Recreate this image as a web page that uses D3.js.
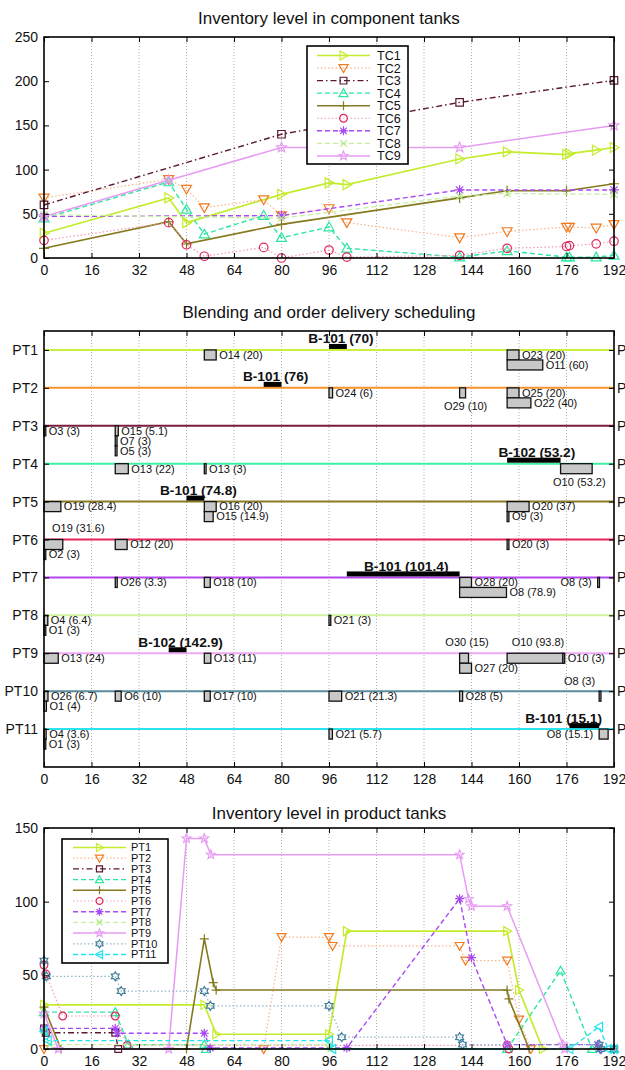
<!DOCTYPE html>
<html><head><meta charset="utf-8">
<script src="https://cdn.jsdelivr.net/npm/d3@7/dist/d3.min.js"></script>
<style>
html,body{margin:0;padding:0;background:#fff;}
svg{display:block;}
</style></head><body>
<svg id="chart" width="625" height="1070"></svg>
<script>
// ================= DATA =================
const hourTicks = [0,16,32,48,64,80,96,112,128,144,160,176,192];
const tcTicks = [0,50,100,150,200,250];
const ptTicks = [0,50,100,150];

const titles = ["Inventory level in component tanks","Blending and order delivery scheduling","Inventory level in product tanks"];

// component tanks: [hour, level]
const tcNames = ["TC1","TC2","TC3","TC4","TC5","TC6","TC7","TC8","TC9"];
const TC1 = [[0,28],[42,68],[48,40],[80,72],[96,85],[102,83],[140,112],[156,120],[176,117],[177,118],[186,122],[192,125]];
const TC2 = [[0,68],[42,89],[48,78],[54,57],[74,66],[80,48],[96,56],[102,40],[140,23],[156,30],[176,35],[177,35],[186,34],[192,38]];
const TC3 = [[0,60],[80,140],[140,176],[192,201]];
const TC4 = [[0,45],[42,86],[48,55],[54,27],[74,48],[80,23],[96,35],[102,11],[140,1],[156,8],[176,1],[177,1],[186,1],[192,3]];
const TC5 = [[0,11],[42,41],[48,16],[80,38],[140,68],[156,76],[176,76],[192,84]];
const TC6 = [[0,20],[42,40],[48,15],[54,2],[74,12],[80,0],[96,9],[102,1],[140,3],[156,11],[176,13],[177,14],[186,16],[192,19]];
const TC7 = [[0,47],[80,48],[140,77],[192,77]];
const TC8 = [[0,49],[80,45],[140,70],[156,73],[192,72]];
const TC9 = [[0,47],[42,88],[80,125],[140,125],[192,150]];
const tcSeries = [TC1,TC2,TC3,TC4,TC5,TC6,TC7,TC8,TC9];

// product tanks: [hour, level]
const ptNames = ["PT1","PT2","PT3","PT4","PT5","PT6","PT7","PT8","PT9","PT10","PT11"];
const PT1 = [[0,30],[54,30],[58,10],[96,10],[102,80],[156,80],[160,40],[168,0]];
const PT2 = [[0,0],[74,0],[80,76],[96,76],[97.2,70],[140,70],[142,60],[156,60],[160,20],[164,0]];
const PT3 = [[0,14],[0.6,11],[24,11],[25,0]];
const PT4 = [[0,25],[24,25],[28.4,3],[54,3],[54.6,0],[156,0],[174,53.2],[184.6,0],[192,0]];
const PT5 = [[0,28.4],[5.7,0],[48,0],[54,74.8],[57,45],[58,40],[156,40],[156.6,34],[163.4,0]];
const PT6 = [[0,57],[0.6,51],[6.3,22.4],[24,22.4],[28,2.4],[156,2.4],[156.6,0]];
const PT7 = [[0,14],[24,14],[24.7,10.7],[54,10.7],[56,0.7],[102,0.7],[140,102],[144,62],[156,3],[186.5,3],[187.1,0],[192,0]];
const PT8 = [[0,12.4],[1.9,3],[96,3],[96.6,0],[192,0]];
const PT9 = [[0,24],[4.8,0],[42,0],[48,142.9],[54,142.9],[56.2,131.9],[140,131.9],[143,101.9],[144,96.9],[156,96.9],[174.8,3.1],[175.4,0]];
const PT10 = [[0,60],[0.8,49.3],[24,49.3],[26,39.3],[54,39.3],[56,29.3],[96,29.3],[100.3,8],[140,8],[141,3],[187,3],[187.6,0],[192,0]];
const PT11 = [[0,12.3],[1.3,5.7],[96,5.7],[97.1,0],[177,0],[187,15.1],[190,0],[192,0]];
const ptSeries = [PT1,PT2,PT3,PT4,PT5,PT6,PT7,PT8,PT9,PT10,PT11];

// blending runs: [product tank, blender, volume, start hour, end hour]
const blends = [
  ["PT1","B-101",70,96,102],
  ["PT2","B-101",76,74,80],
  ["PT4","B-102",53.2,156,174],
  ["PT5","B-101",74.8,48,54],
  ["PT7","B-101",101.4,102,140],
  ["PT9","B-102",142.9,42,48],
  ["PT11","B-101",15.1,177,187]
];
// order deliveries: [product tank, order, volume, start hour]
const orders = [
  ["PT1","O14",20,54],["PT1","O23",20,156],["PT1","O11",60,156],
  ["PT2","O24",6,96],["PT2","O29",10,140],["PT2","O25",20,156],["PT2","O22",40,156],
  ["PT3","O3",3,0],["PT3","O15",5.1,24],["PT3","O7",3,24],["PT3","O5",3,24],
  ["PT4","O13",22,24],["PT4","O13",3,54],["PT4","O10",53.2,174],
  ["PT5","O19",28.4,0],["PT5","O16",20,54],["PT5","O15",14.9,54],["PT5","O20",37,156],["PT5","O9",3,156],
  ["PT6","O19",31.6,0],["PT6","O2",3,0],["PT6","O12",20,24],["PT6","O20",3,156],
  ["PT7","O26",3.3,24],["PT7","O18",10,54],["PT7","O28",20,140],["PT7","O8",78.9,140],["PT7","O8",3,186.5],
  ["PT8","O4",6.4,0],["PT8","O1",3,0],["PT8","O21",3,96],
  ["PT9","O13",24,0],["PT9","O13",11,54],["PT9","O30",15,140],["PT9","O27",20,140],["PT9","O10",93.8,156],["PT9","O10",3,174.8],
  ["PT10","O26",6.7,0],["PT10","O1",4,0],["PT10","O6",10,24],["PT10","O17",10,54],["PT10","O21",21.3,96],["PT10","O28",5,140],["PT10","O8",3,187],
  ["PT11","O4",3.6,0],["PT11","O1",3,0],["PT11","O21",5.7,96],["PT11","O8",15.1,187]
];
const deliveryRate = 5; // volume units per hour

// ================= LAYOUT / STYLE =================
const FONT = '"Liberation Sans", Arial, Helvetica, sans-serif';
const styles = [
  {line:"#c3ec2c", mark:"#c3ec2c", dash:"solid",   marker:"triR",  w:1.7},
  {line:"#f8b48a", mark:"#f27b1f", dash:"dotted",  marker:"triD",  w:1.2},
  {line:"#5b1830", mark:"#5b1830", dash:"dashdot", marker:"square",w:1.4},
  {line:"#2ee6a0", mark:"#2ee6a0", dash:"dashed",  marker:"triU",  w:1.4},
  {line:"#857a20", mark:"#857a20", dash:"solid",   marker:"plus",  w:1.6},
  {line:"#f39bb0", mark:"#e0285a", dash:"dotted",  marker:"circle",w:1.2},
  {line:"#a848f2", mark:"#a848f2", dash:"dashed",  marker:"aster", w:1.4},
  {line:"#c6f0a2", mark:"#b5ea86", dash:"dashed",  marker:"x",     w:1.3},
  {line:"#e79cf3", mark:"#e79cf3", dash:"solid",   marker:"star",  w:1.5},
  {line:"#90b4c4", mark:"#3f7f9a", dash:"dotted",  marker:"hex",   w:1.2},
  {line:"#22e2ee", mark:"#22e2ee", dash:"dashed",  marker:"triL",  w:1.4}
];
const rowColors = ["#c9f03c","#f7932a","#7b1b3e","#3cf0a6","#8a7b25","#e7255a","#b547f0","#cff59b","#f0a8f5","#5a8e9f","#2ae3ee"];
const dashes = {solid:null, dotted:"1.5,2.2", dashed:"5,3", dashdot:"6,3,1.5,3"};
const labelPlacement = {
  "PT2|O29|10":"below","PT4|O10|53.2":"below","PT6|O19|31.6":"aboveRight",
  "PT9|O30|15":"above","PT9|O10|93.8":"above","PT7|O8|3":"left",
  "PT10|O8|3":"aboveLeft","PT11|O8|15.1":"left"
};

const svg = d3.select("#chart").attr("font-family", FONT);
const x = d3.scaleLinear().domain([0,192]).range([44,614]);

function markerPath(type, s){
  const h = s/2;
  const poly = (n, r1, r2) => {
    let p = [];
    for (let i=0;i<n*2;i++){
      const r = i%2===0 ? r1 : r2;
      const a = -Math.PI/2 + i*Math.PI/n;
      p.push([r*Math.cos(a), r*Math.sin(a)]);
    }
    return "M" + p.map(d=>d[0].toFixed(2)+","+d[1].toFixed(2)).join("L") + "Z";
  };
  const k = h*0.72;
  switch(type){
    case "triR": return `M${-h*0.75},${-h}L${h},0L${-h*0.75},${h}Z`;
    case "triL": return `M${h*0.75},${-h}L${-h},0L${h*0.75},${h}Z`;
    case "triU": return `M${-h},${h*0.75}L0,${-h}L${h},${h*0.75}Z`;
    case "triD": return `M${-h},${-h*0.75}L0,${h}L${h},${-h*0.75}Z`;
    case "square": { const q=h*0.75; return `M${-q},${-q}H${q}V${q}H${-q}Z`; }
    case "plus": return `M${-h},0H${h}M0,${-h}V${h}`;
    case "x": return `M${-k},${-k}L${k},${k}M${-k},${k}L${k},${-k}`;
    case "aster": return `M${-h},0H${h}M0,${-h}V${h}M${-k},${-k}L${k},${k}M${-k},${k}L${k},${-k}`;
    case "circle": { const r=h*0.85; return `M${r},0A${r},${r} 0 1,1 ${-r},0A${r},${r} 0 1,1 ${r},0Z`; }
    case "star": return poly(5, h*1.05, h*0.45);
    case "hex": return poly(6, h, h*0.6);
  }
}

function drawGrid(top, bottom){
  svg.append("g").selectAll("line").data(hourTicks.filter(d=>d>0&&d<192)).join("line")
    .attr("x1",d=>x(d)).attr("x2",d=>x(d)).attr("y1",top).attr("y2",bottom)
    .attr("stroke","#a0a0a0").attr("stroke-width",0.8).attr("stroke-dasharray","1,2");
}

function drawFrame(top, bottom, yScale, yVals, yFmt, rightFmt){
  const g = svg.append("g");
  g.append("g").attr("transform",`translate(0,${bottom})`)
    .call(d3.axisBottom(x).tickValues(hourTicks).tickSize(-5).tickPadding(7));
  g.append("g").attr("transform",`translate(0,${top})`)
    .call(d3.axisTop(x).tickValues(hourTicks).tickSize(-5).tickFormat(""));
  g.append("g").attr("transform",`translate(${x(0)},0)`)
    .call(d3.axisLeft(yScale).tickValues(yVals).tickSize(-5).tickPadding(6).tickFormat(yFmt));
  g.append("g").attr("transform",`translate(${x(192)},0)`)
    .call(d3.axisRight(yScale).tickValues(yVals).tickSize(-5).tickPadding(3).tickFormat(rightFmt || (()=> "")));
  g.selectAll(".domain").remove();
  g.selectAll(".tick line").attr("stroke","#000").attr("stroke-width",1);
  g.selectAll("g").attr("font-family",FONT).attr("font-size",14);
  g.selectAll(".tick text").attr("fill","#111");
  g.append("rect").attr("x",x(0)).attr("y",top).attr("width",x(192)-x(0)).attr("height",bottom-top)
    .attr("fill","none").attr("stroke","#000").attr("stroke-width",1.6);
}

function drawSeries(yScale, data, st, msize){
  const g = svg.append("g");
  const line = d3.line().x(d=>x(d[0])).y(d=>yScale(d[1]));
  g.append("path").attr("d", line(data)).attr("fill","none")
    .attr("stroke", st.line).attr("stroke-width", st.w).attr("stroke-dasharray", dashes[st.dash]);
  g.selectAll("path.m").data(data).join("path").attr("class","m")
    .attr("transform", d=>`translate(${x(d[0])},${yScale(d[1])})`)
    .attr("d", markerPath(st.marker, msize)).attr("fill","none")
    .attr("stroke", st.mark).attr("stroke-width",1.2);
}

function drawLegend(bx, by, bw, bh, names, y0, step, lx0, lx1, tx, fs, msize){
  const g = svg.append("g");
  g.append("rect").attr("x",bx).attr("y",by).attr("width",bw).attr("height",bh)
    .attr("fill","#fff").attr("stroke","#000").attr("stroke-width",1.6);
  names.forEach((n,i)=>{
    const st = styles[i], yy = y0 + i*step, mx = (lx0+lx1)/2;
    g.append("line").attr("x1",lx0).attr("x2",lx1).attr("y1",yy).attr("y2",yy)
      .attr("stroke",st.line).attr("stroke-width",st.w).attr("stroke-dasharray",dashes[st.dash]);
    g.append("path").attr("transform",`translate(${mx},${yy})`).attr("d",markerPath(st.marker,msize))
      .attr("fill","none").attr("stroke",st.mark).attr("stroke-width",1.2);
    g.append("text").attr("x",tx).attr("y",yy).attr("dy","0.36em").attr("font-size",fs).attr("fill","#111").text(n);
  });
}

function title(txt, yBase){
  svg.append("text").attr("x",(x(0)+x(192))/2).attr("y",yBase).attr("text-anchor","middle")
    .attr("font-size",17).attr("fill","#111").text(txt);
}

// ================= CHART 1 =================
const c1 = {top:37, bottom:258};
const y1 = d3.scaleLinear().domain([0,250]).range([c1.bottom,c1.top]);
title(titles[0], 24);
drawGrid(c1.top, c1.bottom);
tcSeries.forEach((s,i)=>drawSeries(y1, s, styles[i], 10));
drawFrame(c1.top, c1.bottom, y1, tcTicks, d3.format("d"));
drawLegend(307, 46, 101, 118, tcNames, 55.5, 12.55, 317, 370, 377, 12.5, 9);

// ================= CHART 2 =================
const c2 = {top:331, bottom:767};
const y2 = d3.scaleLinear().domain([0.5,12]).range([c2.top,c2.bottom]);
const rowY = p => y2(ptNames.indexOf(p)+1);
title(titles[1], 318);
drawGrid(c2.top, c2.bottom);
ptNames.forEach((p,i)=>{
  svg.append("line").attr("x1",x(0)).attr("x2",x(192)).attr("y1",rowY(p)).attr("y2",rowY(p))
    .attr("stroke",rowColors[i]).attr("stroke-width",2);
});
const RECT_H = 10;
const stackCount = {};
const og = svg.append("g");
orders.forEach(o=>{
  const [p,name,q,t] = o;
  const key = p+"|"+t;
  const k = stackCount[key] || 0; stackCount[key] = k+1;
  const ry0 = rowY(p);
  const xa = x(t), xb = x(t + q/deliveryRate);
  const ry = ry0 + k*RECT_H;
  og.append("rect").attr("x",xa).attr("y",ry).attr("width",Math.max(xb-xa,1)).attr("height",RECT_H)
    .attr("fill","#c8c8c8").attr("stroke","#111").attr("stroke-width",1.3);
  const lab = `${name} (${q})`;
  const pl = labelPlacement[`${p}|${name}|${q}`] || "right";
  const t2 = og.append("text").attr("font-size",11).attr("fill","#111").attr("dy","0.35em").text(lab);
  if (pl==="right") t2.attr("x",xb+3).attr("y",ry+RECT_H/2);
  else if (pl==="left") t2.attr("x",xa-6).attr("y",ry+RECT_H/2).attr("text-anchor","end");
  else if (pl==="below") t2.attr("x",(xa+xb)/2+3).attr("y",ry+RECT_H+8).attr("text-anchor","middle");
  else if (pl==="above") t2.attr("x",(xa+xb)/2+3).attr("y",ry0-11).attr("text-anchor","middle");
  else if (pl==="aboveRight") t2.attr("x",xa+8).attr("y",ry0-11);
  else if (pl==="aboveLeft") t2.attr("x",xa-4).attr("y",ry0-10).attr("text-anchor","end");
});
const bg = svg.append("g");
blends.forEach(b=>{
  const [p,bl,v,t0,t1] = b;
  const ry0 = rowY(p);
  bg.append("rect").attr("x",x(t0)).attr("y",ry0-6).attr("width",x(t1)-x(t0)).attr("height",5).attr("fill","#000");
  const txt = bg.append("text").attr("font-size",13.7).attr("font-weight","bold").attr("fill","#111")
    .attr("text-anchor","middle").attr("y",ry0-6.5).text(`${bl} (${v})`);
  let cx = (x(t0)+x(t1))/2 + 3;
  const w = txt.node().getComputedTextLength();
  if (cx + w/2 > x(192) - 12) cx = x(192) - 12 - w/2;
  txt.attr("x",cx);
});
drawFrame(c2.top, c2.bottom, y2, d3.range(1,12), i=>ptNames[i-1], i=>ptNames[i-1]);

// ================= CHART 3 =================
const c3 = {top:828, bottom:1049};
const y3 = d3.scaleLinear().domain([0,150]).range([c3.bottom,c3.top]);
title(titles[2], 819);
drawGrid(c3.top, c3.bottom);
ptSeries.forEach((s,i)=>drawSeries(y3, s, styles[i], 9));
drawFrame(c3.top, c3.bottom, y3, ptTicks, d3.format("d"));
drawLegend(62, 839, 106, 124, ptNames, 847.5, 10.7, 73, 126, 131, 11, 8);
</script>
</body></html>
